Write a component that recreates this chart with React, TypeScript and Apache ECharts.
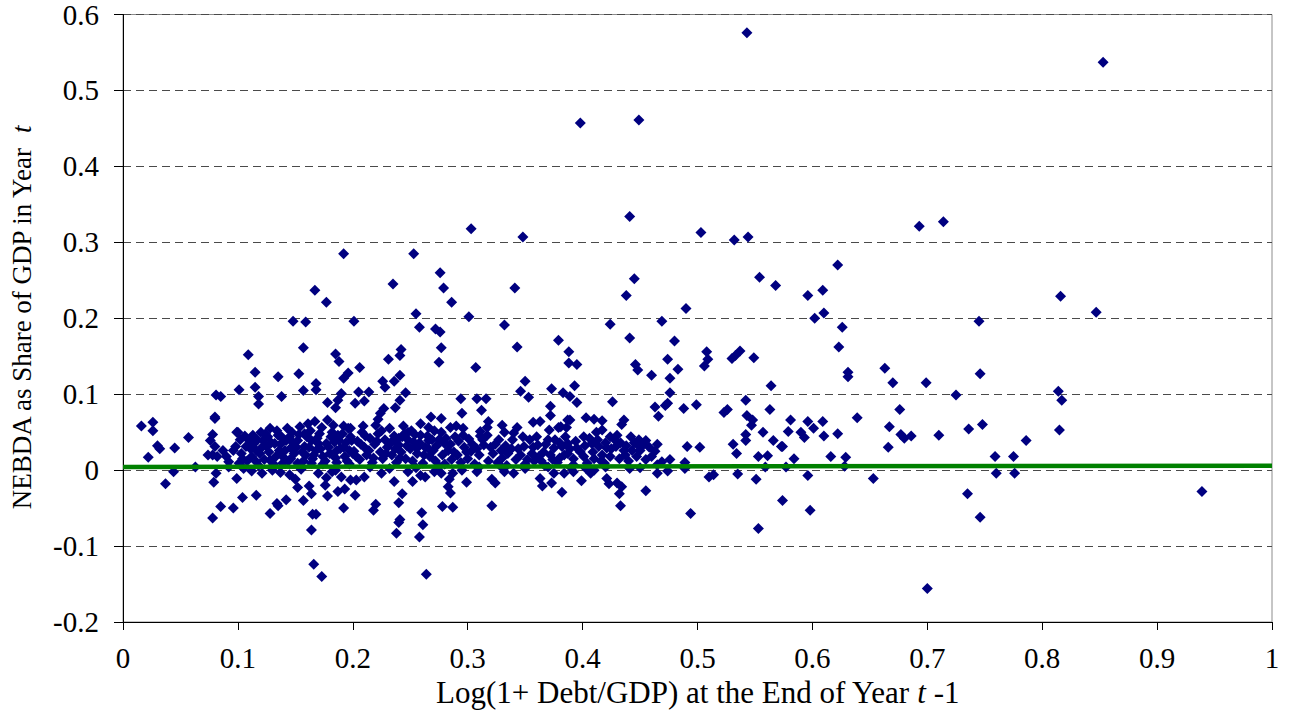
import React, { useEffect, useRef } from "react";
import * as echarts from "echarts";

// Scatter observations [Log(1+Debt/GDP) at t-1, NEBDA share of GDP at t]
const highPoints: number[][] = [
  [0.543, 0.576], [0.853, 0.537], [0.398, 0.457], [0.449, 0.461], [0.441, 0.334],
  [0.303, 0.318], [0.348, 0.307], [0.503, 0.313], [0.532, 0.303], [0.544, 0.307],
  [0.693, 0.321], [0.714, 0.327], [0.192, 0.285], [0.253, 0.285], [0.276, 0.260],
  [0.279, 0.240], [0.286, 0.221], [0.301, 0.202], [0.341, 0.240], [0.445, 0.252],
  [0.438, 0.230], [0.554, 0.254], [0.568, 0.243], [0.490, 0.213], [0.622, 0.270],
  [0.596, 0.230], [0.609, 0.237], [0.602, 0.200], [0.610, 0.207], [0.816, 0.229],
  [0.847, 0.208], [0.235, 0.245], [0.167, 0.237], [0.177, 0.221], [0.255, 0.206],
];

const upperPoints: number[][] = [
  [0.745, 0.196], [0.626, 0.188], [0.623, 0.162], [0.631, 0.129], [0.631, 0.123],
  [0.663, 0.134], [0.670, 0.115], [0.699, 0.115], [0.725, 0.099], [0.746, 0.127],
  [0.814, 0.104], [0.817, 0.092], [0.332, 0.191], [0.469, 0.196], [0.424, 0.192],
  [0.343, 0.162], [0.379, 0.171], [0.441, 0.174], [0.480, 0.170], [0.277, 0.161],
  [0.148, 0.196], [0.159, 0.195], [0.201, 0.196], [0.157, 0.161], [0.242, 0.159],
  [0.258, 0.188], [0.272, 0.186], [0.276, 0.182], [0.109, 0.152], [0.185, 0.153],
  [0.188, 0.143], [0.115, 0.129], [0.135, 0.123], [0.153, 0.127], [0.168, 0.114],
  [0.168, 0.106], [0.157, 0.105], [0.196, 0.128], [0.192, 0.121], [0.190, 0.101],
  [0.115, 0.109], [0.101, 0.106], [0.241, 0.151], [0.231, 0.146], [0.206, 0.135],
  [0.241, 0.125], [0.236, 0.117], [0.226, 0.117], [0.228, 0.109], [0.307, 0.135],
  [0.275, 0.142], [0.388, 0.156], [0.388, 0.141], [0.395, 0.139], [0.350, 0.117],
  [0.346, 0.104], [0.353, 0.096], [0.373, 0.107], [0.383, 0.102], [0.205, 0.103],
  [0.214, 0.103], [0.246, 0.102], [0.446, 0.139], [0.448, 0.132], [0.474, 0.146],
  [0.483, 0.133], [0.460, 0.125], [0.476, 0.121], [0.508, 0.156], [0.509, 0.146],
  [0.506, 0.137], [0.537, 0.157], [0.530, 0.147], [0.533, 0.151], [0.549, 0.148],
  [0.564, 0.111], [0.393, 0.111], [0.389, 0.097], [0.476, 0.102],
];

const midPoints: number[][] = [
  [0.081, 0.099], [0.085, 0.097], [0.118, 0.097], [0.118, 0.087], [0.138, 0.097],
  [0.178, 0.089], [0.187, 0.092], [0.185, 0.082], [0.080, 0.070], [0.080, 0.068],
  [0.016, 0.058], [0.026, 0.063], [0.026, 0.052], [0.202, 0.088], [0.210, 0.091],
  [0.241, 0.092], [0.227, 0.081], [0.224, 0.075], [0.237, 0.082], [0.294, 0.094],
  [0.308, 0.094], [0.316, 0.094], [0.295, 0.075], [0.312, 0.079], [0.372, 0.084],
  [0.372, 0.072], [0.268, 0.070], [0.277, 0.068], [0.259, 0.061], [0.266, 0.056],
  [0.271, 0.052], [0.222, 0.067], [0.220, 0.059], [0.198, 0.055], [0.209, 0.058],
  [0.285, 0.056], [0.290, 0.058], [0.296, 0.055], [0.318, 0.064], [0.317, 0.056],
  [0.330, 0.059], [0.332, 0.050], [0.343, 0.056], [0.340, 0.049], [0.357, 0.063],
  [0.363, 0.064], [0.371, 0.053], [0.379, 0.056], [0.387, 0.066], [0.395, 0.089],
  [0.426, 0.090], [0.463, 0.083], [0.472, 0.085], [0.474, 0.088], [0.466, 0.071],
  [0.488, 0.081], [0.499, 0.086], [0.523, 0.076], [0.526, 0.080], [0.542, 0.092],
  [0.563, 0.080], [0.543, 0.072], [0.548, 0.066], [0.547, 0.059], [0.581, 0.066],
  [0.579, 0.051], [0.596, 0.064], [0.609, 0.064], [0.601, 0.055], [0.622, 0.048],
  [0.590, 0.050], [0.639, 0.069], [0.667, 0.057], [0.676, 0.080], [0.815, 0.053],
  [0.736, 0.054], [0.748, 0.060], [0.403, 0.069], [0.410, 0.067], [0.417, 0.065],
  [0.436, 0.066], [0.434, 0.060], [0.389, 0.066], [0.381, 0.057], [0.386, 0.056],
];

const denseLeft: number[][] = [
  [0.078, 0.047], [0.076, 0.039], [0.080, 0.031], [0.078, 0.020], [0.082, 0.018],
  [0.087, 0.026], [0.090, 0.018], [0.092, 0.011], [0.074, 0.020], [0.030, 0.032],
  [0.032, 0.028], [0.022, 0.017], [0.045, 0.029], [0.057, 0.043], [0.063, 0.004],
  [0.092, 0.004], [0.099, 0.050], [0.044, -0.002],
  [0.100, 0.050], [0.098, 0.031], [0.096, 0.026], [0.103, 0.022], [0.107, 0.031],
  [0.110, 0.039], [0.114, 0.035], [0.116, 0.026], [0.112, 0.018], [0.104, 0.015],
  [0.119, 0.022], [0.122, 0.039], [0.126, 0.044], [0.128, 0.055], [0.132, 0.035],
  [0.135, 0.046], [0.136, 0.026], [0.139, 0.018], [0.142, 0.039], [0.143, 0.055],
  [0.146, 0.029], [0.149, 0.022], [0.152, 0.039], [0.154, 0.057], [0.158, 0.031],
  [0.159, 0.020], [0.161, 0.061], [0.164, 0.039], [0.167, 0.064], [0.168, 0.026],
  [0.171, 0.048], [0.174, 0.018], [0.177, 0.035], [0.178, 0.066], [0.181, 0.044],
  [0.183, 0.059], [0.186, 0.026], [0.188, 0.039], [0.191, 0.048], [0.193, 0.018],
  [0.196, 0.055], [0.199, 0.039], [0.200, 0.022], [0.101, 0.009], [0.116, 0.011],
  [0.128, 0.013], [0.139, 0.009], [0.152, 0.009], [0.164, 0.009], [0.174, 0.008],
  [0.186, 0.010], [0.197, 0.008], [0.125, 0.031], [0.145, 0.044], [0.170, 0.035],
  [0.180, 0.022], [0.158, 0.048], [0.133, 0.018], [0.120, 0.050], [0.184, 0.037],
  [0.165, 0.015], [0.146, 0.015], [0.105, 0.002], [0.130, 0.000], [0.155, 0.001],
  [0.185, 0.000],
  [0.102, 0.040], [0.106, 0.045], [0.108, 0.012], [0.111, 0.028], [0.113, 0.046],
  [0.117, 0.040], [0.118, 0.006], [0.121, 0.030], [0.123, 0.014], [0.124, 0.048],
  [0.127, 0.024], [0.129, 0.036], [0.131, 0.008], [0.134, 0.052], [0.137, 0.034],
  [0.138, 0.044], [0.141, 0.026], [0.144, 0.012], [0.147, 0.050], [0.148, 0.036],
  [0.151, 0.030], [0.153, 0.047], [0.156, 0.024], [0.157, 0.012], [0.160, 0.044],
  [0.162, 0.030], [0.163, 0.052], [0.166, 0.020], [0.169, 0.042], [0.172, 0.028],
  [0.173, 0.056], [0.176, 0.012], [0.179, 0.030], [0.182, 0.050], [0.185, 0.016],
  [0.187, 0.046], [0.189, 0.028], [0.192, 0.058], [0.194, 0.036], [0.197, 0.026],
];

const denseCentre: number[][] = [
  [0.192, 0.030], [0.195, 0.012], [0.198, 0.044], [0.201, 0.025], [0.204, 0.038],
  [0.206, 0.014], [0.208, 0.050], [0.210, 0.030], [0.212, 0.020], [0.215, 0.042],
  [0.217, 0.010], [0.219, 0.034], [0.222, 0.048], [0.224, 0.024], [0.226, 0.015],
  [0.228, 0.040], [0.230, 0.030], [0.232, 0.055], [0.234, 0.020], [0.236, 0.045],
  [0.238, 0.010], [0.240, 0.033], [0.242, 0.024], [0.244, 0.058], [0.246, 0.015],
  [0.248, 0.040], [0.250, 0.028], [0.252, 0.012], [0.254, 0.047], [0.256, 0.022],
  [0.258, 0.036], [0.261, 0.009], [0.263, 0.030], [0.265, 0.045], [0.267, 0.018],
  [0.270, 0.026], [0.272, 0.012], [0.275, 0.040], [0.278, 0.020], [0.280, 0.008],
  [0.283, 0.026], [0.286, 0.014], [0.289, 0.044], [0.291, 0.020], [0.294, 0.010],
  [0.297, 0.030], [0.300, 0.015], [0.303, 0.025], [0.306, 0.008], [0.310, 0.020],
  [0.314, 0.033], [0.318, 0.012], [0.322, 0.022], [0.326, 0.010], [0.330, 0.016],
  [0.334, 0.006], [0.338, 0.028], [0.342, 0.014], [0.346, 0.020], [0.350, 0.008],
  [0.354, 0.040], [0.358, 0.012], [0.362, 0.018], [0.367, 0.006], [0.370, 0.040],
  [0.374, 0.014], [0.378, 0.010], [0.380, 0.036], [0.301, 0.041], [0.311, 0.045],
  [0.317, 0.046], [0.311, 0.051], [0.266, 0.039], [0.280, 0.035], [0.253, 0.037],
  [0.258, 0.032], [0.245, 0.048], [0.248, 0.050], [0.240, 0.042], [0.236, 0.039],
  [0.324, 0.034], [0.329, 0.026], [0.335, 0.022], [0.349, 0.031], [0.356, 0.022],
  [0.361, 0.033], [0.366, 0.024], [0.375, 0.029], [0.382, 0.031], [0.387, 0.022],
  [0.215, 0.004], [0.232, 0.002], [0.255, 0.003], [0.275, 0.005], [0.310, 0.004],
  [0.330, 0.003], [0.350, 0.002], [0.370, 0.004],
  [0.203, 0.018], [0.207, 0.034], [0.211, 0.045], [0.214, 0.026], [0.218, 0.016],
  [0.221, 0.038], [0.225, 0.052], [0.229, 0.022], [0.233, 0.036], [0.237, 0.028],
  [0.241, 0.016], [0.243, 0.044], [0.247, 0.032], [0.251, 0.052], [0.255, 0.030],
  [0.259, 0.046], [0.262, 0.020], [0.266, 0.028], [0.269, 0.040], [0.273, 0.032],
  [0.277, 0.050], [0.281, 0.042], [0.285, 0.034], [0.288, 0.024], [0.292, 0.038],
  [0.296, 0.046], [0.299, 0.024], [0.304, 0.034], [0.308, 0.028], [0.313, 0.040],
];

const denseRight: number[][] = [
  [0.401, 0.044], [0.412, 0.050], [0.417, 0.053], [0.424, 0.044], [0.430, 0.046],
  [0.442, 0.044], [0.449, 0.040], [0.455, 0.039], [0.448, 0.033], [0.387, 0.035],
  [0.395, 0.029], [0.408, 0.035], [0.414, 0.031], [0.421, 0.029], [0.429, 0.031],
  [0.436, 0.026], [0.443, 0.026], [0.450, 0.026], [0.384, 0.020], [0.392, 0.015],
  [0.401, 0.018], [0.410, 0.015], [0.417, 0.020], [0.424, 0.018], [0.432, 0.015],
  [0.437, 0.020], [0.419, 0.009], [0.404, 0.009], [0.392, 0.007], [0.465, 0.034],
  [0.463, 0.025], [0.455, 0.014], [0.476, 0.014], [0.469, 0.011], [0.465, 0.007],
  [0.491, 0.031], [0.502, 0.030], [0.489, 0.010], [0.489, 0.002], [0.531, 0.034],
  [0.534, 0.022], [0.553, 0.018], [0.561, 0.019], [0.559, 0.004], [0.542, 0.047],
  [0.542, 0.039], [0.557, 0.050], [0.566, 0.039], [0.573, 0.031], [0.441, 0.002],
  [0.390, 0.003], [0.420, 0.004], [0.450, 0.003],
  [0.320, 0.030], [0.327, 0.040], [0.333, 0.032], [0.339, 0.040], [0.344, 0.028],
  [0.348, 0.044], [0.352, 0.014], [0.357, 0.030], [0.360, 0.044], [0.364, 0.012],
  [0.368, 0.034], [0.372, 0.020], [0.376, 0.040], [0.380, 0.016], [0.385, 0.044],
  [0.389, 0.028], [0.394, 0.038], [0.398, 0.024], [0.402, 0.032], [0.406, 0.042],
  [0.409, 0.024], [0.413, 0.040], [0.416, 0.012], [0.420, 0.036], [0.425, 0.028],
  [0.428, 0.040], [0.433, 0.036], [0.438, 0.032], [0.440, 0.012], [0.445, 0.036],
  [0.447, 0.018], [0.452, 0.032], [0.458, 0.030], [0.460, 0.018],
  [0.574, 0.031], [0.584, 0.015], [0.616, 0.018], [0.629, 0.017], [0.628, 0.005],
  [0.577, 0.004], [0.593, 0.043], [0.610, 0.045], [0.666, 0.030], [0.677, 0.047],
  [0.680, 0.042], [0.686, 0.045], [0.710, 0.046], [0.786, 0.039], [0.759, 0.018],
  [0.775, 0.018], [0.760, -0.004], [0.776, -0.004],
];

const negativePoints: number[][] = [
  [0.037, -0.018], [0.081, -0.004], [0.079, -0.016], [0.085, -0.048], [0.096, -0.050],
  [0.078, -0.063], [0.099, -0.011], [0.104, -0.036], [0.116, -0.033], [0.112, -0.001],
  [0.121, -0.004], [0.128, -0.057], [0.134, -0.044], [0.135, -0.047], [0.142, -0.039],
  [0.137, -0.003], [0.152, -0.023], [0.157, -0.040], [0.162, -0.021], [0.164, -0.031],
  [0.165, -0.058], [0.168, -0.058], [0.164, -0.079], [0.166, -0.124], [0.173, -0.140],
  [0.176, -0.020], [0.178, -0.034], [0.187, -0.028], [0.193, -0.025], [0.192, -0.050],
  [0.177, -0.010], [0.182, -0.002], [0.190, -0.009], [0.198, -0.013], [0.145, -0.006],
  [0.170, -0.004], [0.150, -0.012],
  [0.287, -0.004], [0.284, -0.012], [0.299, -0.016], [0.321, -0.012], [0.324, -0.017],
  [0.340, -0.004], [0.332, -0.002], [0.363, -0.011], [0.365, -0.021], [0.373, -0.017],
  [0.382, -0.029], [0.375, -0.004], [0.308, -0.002], [0.295, 0.000], [0.271, -0.002],
  [0.277, -0.004], [0.263, -0.009], [0.259, -0.007], [0.252, -0.015], [0.248, -0.002],
  [0.236, -0.015], [0.225, -0.004], [0.210, -0.009], [0.203, -0.013], [0.202, -0.033],
  [0.218, -0.053], [0.220, -0.045], [0.240, -0.043], [0.243, -0.031], [0.241, -0.065],
  [0.240, -0.069], [0.238, -0.083], [0.260, -0.056], [0.261, -0.072], [0.258, -0.088],
  [0.278, -0.048], [0.287, -0.049], [0.321, -0.047], [0.264, -0.137], [0.283, -0.022],
  [0.285, -0.030], [0.494, -0.057], [0.553, -0.077], [0.455, -0.027], [0.433, -0.047],
  [0.432, -0.031], [0.434, -0.022], [0.430, -0.017], [0.421, -0.011], [0.423, -0.018],
  [0.399, -0.014], [0.384, -0.004], [0.392, -0.002], [0.407, -0.004], [0.410, 0.000],
  [0.403, 0.002], [0.465, -0.004], [0.474, -0.001], [0.510, -0.009], [0.514, -0.006],
  [0.535, -0.005], [0.551, -0.012], [0.574, -0.040], [0.596, -0.007], [0.598, -0.053],
  [0.653, -0.011], [0.735, -0.031], [0.746, -0.062], [0.700, -0.156], [0.939, -0.028],
];

// Fitted regression line end points
const fitLine: number[][] = [
  [0, 0.0042],
  [1, 0.0057],
];

const xTicks = { min: 0, max: 1, step: 0.1 };
const yTicks = { min: -0.2, max: 0.6, step: 0.1 };

const xTitle = "Log(1+ Debt/GDP) at the End of Year {i|t} -1";
const yTitle = "NEBDA as Share of GDP in Year  {i|t}";

const SERIF = "Liberation Serif";

export default function App() {
  const ref = useRef<HTMLDivElement>(null);

  useEffect(() => {
    if (!ref.current) return;
    const chart = echarts.init(ref.current, undefined, { renderer: "svg" });
    const fmt = (v: number) => String(Math.round(v * 10) / 10);
    const allPoints = [
      ...highPoints,
      ...upperPoints,
      ...midPoints,
      ...denseLeft,
      ...denseCentre,
      ...denseRight,
      ...negativePoints,
    ];
    chart.setOption({
      animation: false,
      backgroundColor: "#ffffff",
      grid: {
        left: 122,
        right: 17,
        top: 14,
        bottom: 93,
        show: true,
        borderColor: "#8c8c8c",
        borderWidth: 1,
        backgroundColor: "transparent",
      },
      xAxis: {
        type: "value",
        min: xTicks.min,
        max: xTicks.max,
        interval: xTicks.step,
        axisLine: { show: true, onZero: false, lineStyle: { color: "#000", width: 1 } },
        axisTick: { show: true, inside: false, length: 8, lineStyle: { color: "#000" } },
        splitLine: { show: false },
        axisLabel: {
          color: "#000",
          fontFamily: SERIF,
          fontSize: 29,
          margin: 21,
          formatter: fmt,
        },
        name: xTitle,
        nameLocation: "middle",
        nameGap: 52,
        nameTextStyle: {
          color: "#000",
          fontFamily: SERIF,
          fontSize: 31,
          rich: {
            i: { fontFamily: SERIF, fontSize: 31, fontStyle: "italic", color: "#000" },
          },
        },
      },
      yAxis: {
        type: "value",
        min: yTicks.min,
        max: yTicks.max,
        interval: yTicks.step,
        axisLine: { show: true, onZero: false, lineStyle: { color: "#000", width: 1 } },
        axisTick: { show: true, inside: false, length: 9, lineStyle: { color: "#000" } },
        splitLine: {
          show: true,
          lineStyle: { color: "#4a4a4a", type: [8, 5], width: 1 },
        },
        axisLabel: {
          color: "#000",
          fontFamily: SERIF,
          fontSize: 29,
          margin: 24,
          formatter: fmt,
        },
        name: yTitle,
        nameLocation: "middle",
        nameRotate: 90,
        nameGap: 88,
        nameTextStyle: {
          color: "#000",
          fontFamily: SERIF,
          fontSize: 27,
          rich: {
            i: { fontFamily: SERIF, fontSize: 27, fontStyle: "italic", color: "#000" },
          },
        },
      },
      series: [
        {
          type: "scatter",
          data: allPoints,
          symbol: "diamond",
          symbolSize: [11, 11],
          itemStyle: { color: "#000080", opacity: 1 },
          z: 2,
        },
        {
          type: "line",
          data: fitLine,
          showSymbol: false,
          symbol: "none",
          lineStyle: { color: "#008000", width: 4.5 },
          z: 3,
        },
      ],
    });
    return () => chart.dispose();
  }, []);

  return (
    <div
      ref={ref}
      style={{ position: "absolute", left: 0, top: 0, width: 1289, height: 715 }}
    />
  );
}
